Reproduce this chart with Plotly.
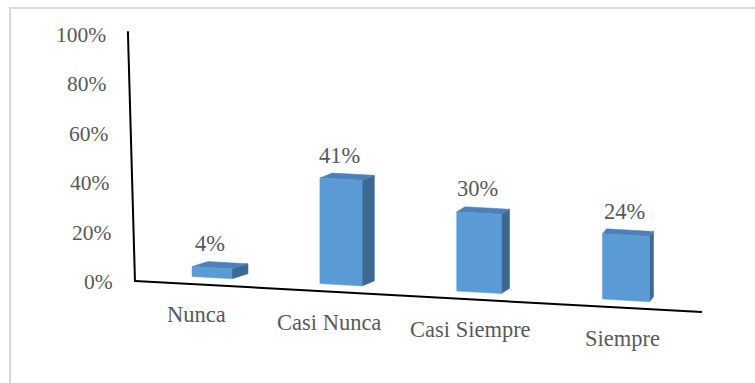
import plotly.graph_objects as go

# Survey answer frequencies (percent of respondents)
categories = ["Nunca", "Casi Nunca", "Casi Siempre", "Siempre"]
values = [4, 41, 30, 24]
value_labels = ["4%", "41%", "30%", "24%"]
tick_values = [0, 20, 40, 60, 80, 100]
tick_labels = ["0%", "20%", "40%", "60%", "80%", "100%"]

W, H = 755, 383
FONT = "'Liberation Serif', 'Times New Roman', serif"
FONT_SIZE = 22.5
TICK_FONT_SIZE = 21.5
TEXT_COLOR = "#595959"
FRONT = "#5B9BD5"
TOP = "#4B80B9"
SIDE = "#3C6892"

# --- simple perspective projection of the 3-D column scene onto the page ---
def floor_y(x):
    # front edge of the floor, sloping down to the right
    return 281 + 0.0547 * (x - 135)

def slot_x(i):
    # category slots spread out as they come closer to the viewer
    return 212 + 124.5 * i + 4.5 * i * i

def unit(x):
    # pixels per percentage point at horizontal position x
    return 2.47 + 0.0005 * (x - 130)

def depth_dx(x):
    return 16 - 0.029 * (x - 212)

DEPTH_DY = -5

def wall_xy(v):
    # the value axis runs up the back-left wall
    return 135 - 0.07 * v, 282 - 2.47 * v

fig = go.Figure()

# value axis line and floor line
ax0 = wall_xy(0)
ax1 = wall_xy(101.5)
fig.add_trace(go.Scatter(x=[ax1[0], ax0[0]], y=[ax1[1], ax0[1]], mode="lines",
                         line=dict(color="black", width=2), hoverinfo="skip"))
fig.add_trace(go.Scatter(x=[ax0[0], 702], y=[floor_y(ax0[0]), floor_y(702)], mode="lines",
                         line=dict(color="black", width=2), hoverinfo="skip"))

def poly(pts, color):
    xs = [p[0] for p in pts] + [pts[0][0]]
    ys = [p[1] for p in pts] + [pts[0][1]]
    fig.add_trace(go.Scatter(x=xs, y=ys, mode="lines", fill="toself",
                             fillcolor=color, line=dict(color=color, width=0.5),
                             hoverinfo="skip"))

def text_font(size=FONT_SIZE):
    return dict(family=FONT, size=size, color=TEXT_COLOR)

annotations = []
for i, (cat, v, lab) in enumerate(zip(categories, values, value_labels)):
    cx = slot_x(i)
    w = 40 + 0.017 * (cx - 212)
    xl, xr = cx - w / 2, cx + w / 2
    dx = depth_dx(cx)
    s = unit(cx)

    def yb(x):
        return floor_y(x) - 7.5

    def yt(x):
        return yb(x) - s * v

    side = [(xr, yb(xr)), (xr + dx, yb(xr) + DEPTH_DY),
            (xr + dx, yt(xr) + DEPTH_DY), (xr, yt(xr))]
    top = [(xl, yt(xl)), (xr, yt(xr)),
           (xr + dx, yt(xr) + DEPTH_DY), (xl + dx, yt(xl) + DEPTH_DY)]
    front = [(xl, yb(xl)), (xr, yb(xr)), (xr, yt(xr)), (xl, yt(xl))]
    poly(side, SIDE)
    poly(top, TOP)
    poly(front, FRONT)

    annotations.append(dict(x=cx - 2, y=yt(cx) - 24, text=lab, showarrow=False,
                            xref="x", yref="y", xanchor="center", yanchor="middle",
                            font=text_font()))
    lx = cx - dx
    annotations.append(dict(x=lx, y=floor_y(lx) + 30.5, text=cat, showarrow=False,
                            xref="x", yref="y", xanchor="center", yanchor="middle",
                            font=text_font()))

for tv, tl in zip(tick_values, tick_labels):
    x, y = wall_xy(tv)
    annotations.append(dict(x=x - 20, y=y, text=tl, showarrow=False,
                            xref="x", yref="y", xanchor="right", yanchor="middle",
                            font=text_font(TICK_FONT_SIZE)))

fig.update_layout(
    width=W, height=H,
    margin=dict(l=0, r=0, t=0, b=0),
    paper_bgcolor="white", plot_bgcolor="white",
    showlegend=False,
    xaxis=dict(range=[0, W], visible=False, fixedrange=True),
    yaxis=dict(range=[H, 0], visible=False, fixedrange=True),
    annotations=annotations,
    shapes=[dict(type="rect", xref="x", yref="y", x0=10, y0=8, x1=W + 20, y1=H + 20,
                 line=dict(color="#D9D9D9", width=2), fillcolor="rgba(0,0,0,0)",
                 layer="below")],
)

fig.write_html("out.html", config={"displayModeBar": False})
